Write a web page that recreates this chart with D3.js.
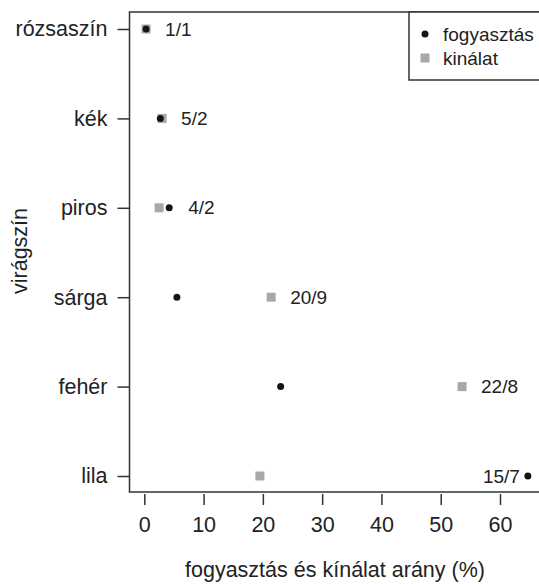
<!DOCTYPE html>
<html>
<head>
<meta charset="utf-8">
<script src="https://cdn.jsdelivr.net/npm/d3@7"></script>
<style>
  body { margin: 0; background: #fff; }
  text { font-family: "Liberation Sans", Arial, sans-serif; fill: #222; }
</style>
</head>
<body>
<script>
var width = 539;
var height = 584;

// adatok
var colors = ["rózsaszín", "kék", "piros", "sárga", "fehér", "lila"];
var fogyasztas = [0.3, 2.7, 4.2, 5.5, 23.0, 64.7];   // fekete pont
var kinalat = [0.3, 3.0, 2.5, 21.4, 53.6, 19.5];     // szürke négyzet
var labels = ["1/1", "5/2", "4/2", "20/9", "22/8", "15/7"];
var xTicks = [0, 10, 20, 30, 40, 50, 60];

var svg = d3.select("body").append("svg")
  .attr("width", width)
  .attr("height", height);

// skálák
var x = d3.scaleLinear().domain([0, 60]).range([144.3, 500]);
var y = d3.scalePoint().domain(colors).range([29, 476]);

var plot = {left: 129.5, top: 12, right: 560, bottom: 492};

// keret
svg.append("rect")
  .attr("x", plot.left).attr("y", plot.top)
  .attr("width", plot.right - plot.left).attr("height", plot.bottom - plot.top)
  .attr("fill", "none").attr("stroke", "#333").attr("stroke-width", 1.5);

// x tengely
var xAxis = svg.append("g")
  .attr("transform", "translate(0," + 494 + ")")
  .call(d3.axisBottom(x).tickValues(xTicks).tickSize(11).tickPadding(12).tickFormat(d3.format("d")));
xAxis.select(".domain").remove();
xAxis.selectAll("line").attr("stroke", "#333").attr("stroke-width", 1.5);
xAxis.selectAll("text").attr("font-size", 21.5).attr("fill", "#222")
  .attr("font-family", "Liberation Sans, Arial, sans-serif");

// y tengely
var yAxis = svg.append("g")
  .attr("transform", "translate(" + plot.left + ",0)")
  .call(d3.axisLeft(y).tickSize(12).tickPadding(10));
yAxis.select(".domain").remove();
yAxis.selectAll("line").attr("stroke", "#333").attr("stroke-width", 1.5);
yAxis.selectAll("text").attr("font-size", 21.5).attr("fill", "#222")
  .attr("font-family", "Liberation Sans, Arial, sans-serif");

// tengelycímek
svg.append("text")
  .attr("x", 335).attr("y", 577)
  .attr("text-anchor", "middle")
  .attr("font-size", 21.5)
  .text("fogyasztás és kínálat arány (%)");

svg.append("text")
  .attr("transform", "translate(27,251) rotate(-90)")
  .attr("text-anchor", "middle")
  .attr("font-size", 21.5)
  .text("virágszín");

// pontok
var rows = colors.map(function(c, i) {
  return {c: c, f: fogyasztas[i], k: kinalat[i], label: labels[i]};
});

var sq = 9;
svg.selectAll(".sq").data(rows).enter().append("rect")
  .attr("class", "sq")
  .attr("x", function(d) { return x(d.k) - sq / 2; })
  .attr("y", function(d) { return y(d.c) - sq / 2; })
  .attr("width", sq).attr("height", sq)
  .attr("fill", "#a8a8a8");

svg.selectAll(".dot").data(rows).enter().append("circle")
  .attr("class", "dot")
  .attr("cx", function(d) { return x(d.f); })
  .attr("cy", function(d) { return y(d.c); })
  .attr("r", 3.5)
  .attr("fill", "#151515");

// címkék: jobbra a nagyobb érték mellé, ha nem fér ki akkor balra
svg.selectAll(".lab").data(rows).enter().append("text")
  .attr("class", "lab")
  .attr("font-size", 19)
  .attr("dy", "0.35em")
  .attr("x", function(d) {
    var m = x(Math.max(d.f, d.k));
    return m + 60 > width ? m - 8 : m + 19;
  })
  .attr("y", function(d) { return y(d.c); })
  .attr("text-anchor", function(d) {
    return x(Math.max(d.f, d.k)) + 60 > width ? "end" : "start";
  })
  .text(function(d) { return d.label; });

// jelmagyarázat
var leg = svg.append("g");
leg.append("rect")
  .attr("x", 409).attr("y", plot.top)
  .attr("width", 200).attr("height", 80 - plot.top)
  .attr("fill", "#fff").attr("stroke", "#333").attr("stroke-width", 1.5);
leg.append("circle").attr("cx", 425).attr("cy", 34).attr("r", 3.5).attr("fill", "#151515");
leg.append("rect").attr("x", 425 - sq / 2).attr("y", 58 - sq / 2)
  .attr("width", sq).attr("height", sq).attr("fill", "#a8a8a8");
leg.append("text").attr("x", 443).attr("y", 34).attr("dy", "0.35em")
  .attr("font-size", 19).text("fogyasztás");
leg.append("text").attr("x", 443).attr("y", 58).attr("dy", "0.35em")
  .attr("font-size", 19).text("kinálat");
</script>
</body>
</html>
